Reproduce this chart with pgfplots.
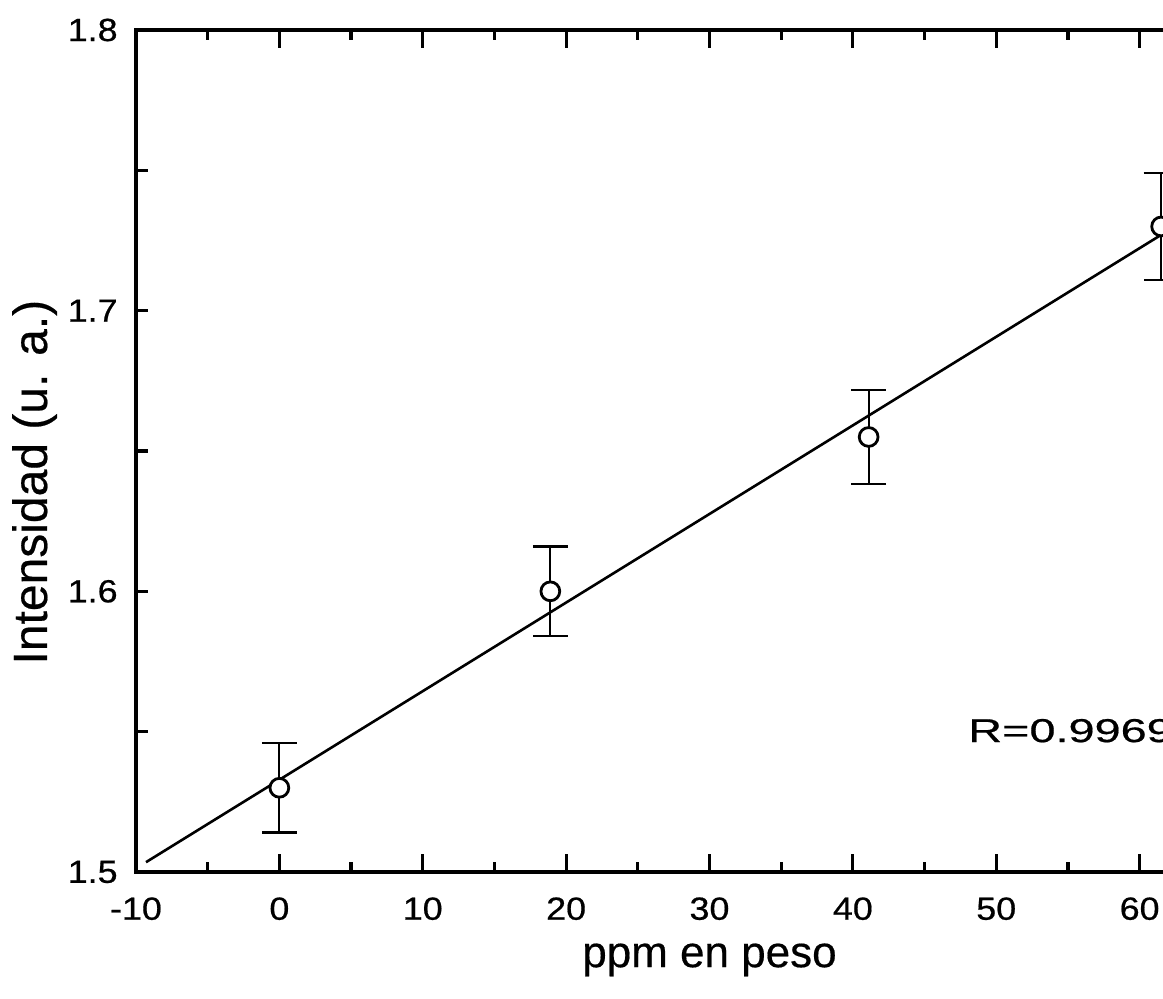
\documentclass[border=0pt]{standalone}
\usepackage{fontspec}
\setmainfont{Liberation Sans}[FakeBold=0.4]
\newfontfamily\tickfont[FakeStretch=1.12, FakeBold=0.6]{Liberation Sans}
\newfontfamily\rfont[FakeStretch=1.42, FakeBold=0.6]{Liberation Sans}
\newfontfamily\labfont[FakeBold=0.4]{Liberation Sans}
\usepackage{pgfplots}
\pgfplotsset{compat=1.18}
\pgfplotsset{
  base/.style={scale only axis, width=573.5pt, height=421pt,
    at={(0,0)}, anchor=south west, overlay,
    xmin=-10, xmax=70, ymin=1.5, ymax=1.8, tick align=inside,
    axis line style={line width=1.8pt},
    tick style={line width=1.6pt, black},
    /pgf/number format/assume math mode=true,
    tick label style={font=\tickfont\fontsize{16}{19}\selectfont, inner sep=0pt},
  },
}
\begin{document}
\begin{tikzpicture}
\useasboundingbox (-68pt,-63.5pt) rectangle (513.5pt,436pt);
\clip (-68pt,-63.5pt) rectangle (513.5pt,436pt);
% y ticks (shorter)
\begin{axis}[base, xtick=\empty,
  ytick={1.5,1.6,1.7,1.8}, minor ytick={1.55,1.65,1.75},
  major tick length=6pt, minor tick length=6pt,
  yticklabel style={xshift=-9pt},
  yticklabel={\pgfmathprintnumber[fixed,precision=1,fixed zerofill]{\tick}},
  ylabel={Intensidad (u. a.)},
  ylabel style={at={(axis description cs:-0.0776,0.463)}, anchor=base,
    font=\labfont\fontsize{24}{28}\selectfont, inner sep=0pt}]
\end{axis}
% x ticks, data
\begin{axis}[base, ytick=\empty,
  xtick={-10,0,...,70}, minor xtick={-5,5,...,65},
  major tick length=9pt, minor tick length=5pt,
  xticklabel style={yshift=-12.5pt},
  xlabel={ppm en peso},
  xlabel style={at={(axis description cs:0.5,-0.113)}, anchor=base,
    font=\labfont\fontsize{22}{26}\selectfont, inner sep=0pt}]
  \addplot[black, line width=1.3pt] coordinates {(-9.3,1.5035) (61.5,1.7270)};
  \addplot[only marks, mark=*, mark size=4.7pt,
    mark options={fill=white, draw=black, line width=1.4pt},
    error bars/.cd, y dir=both, y explicit,
    error bar style={black, line width=1pt},
    error mark options={rotate=90, mark size=8.8pt, line width=1.2pt}]
    coordinates {
      (0,1.530) +- (0,0.016)
      (18.9,1.600) +- (0,0.016)
      (41.1,1.655) +- (0,0.0167)
      (61.5,1.730) +- (0,0.019)
    };
  \node[anchor=base west, inner sep=0pt, font=\rfont\fontsize{16.5}{20}\selectfont]
    at (axis cs:48.02,1.5463) {R=0.9969};
\end{axis}
\end{tikzpicture}
\end{document}
